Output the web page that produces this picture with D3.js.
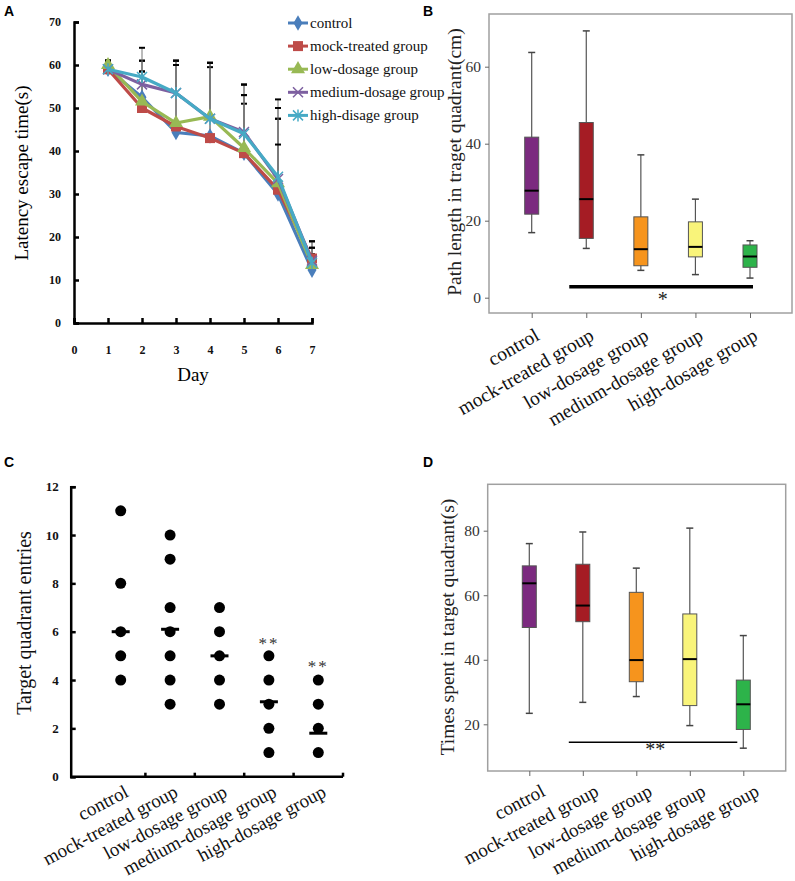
<!DOCTYPE html>
<html><head><meta charset="utf-8">
<script src="https://cdn.jsdelivr.net/npm/d3@7"></script>
<style>body{margin:0;background:#fff} svg{display:block}</style></head>
<body>
<svg id="c" width="795" height="881"></svg>
<script>
// ---------- DATA ----------
const days = [1, 2, 3, 4, 5, 6, 7];
const dayTicks = [0, 1, 2, 3, 4, 5, 6, 7];
const latencyTicks = [0, 10, 20, 30, 40, 50, 60, 70];
const seriesNames = ["control", "mock-treated group", "low-dosage group", "medium-dosage group", "high-disage group"];
const controlLatency = [59, 52.5, 44.3, 43.5, 39.5, 30, 12.3];
const mockLatency    = [59, 50, 45.7, 43, 39.5, 31, 15];
const lowLatency     = [60, 51.5, 46.5, 48, 40.7, 32.5, 13.5];
const mediumLatency  = [59, 55.5, 53.5, 47.5, 44.4, 33.5, 14.5];
const highLatency    = [59, 57.2, 53.5, 47.5, 44, 34, 14];
const controlErr = [2, 6, 16.7, 17, 16, 22, 6.7];
const mockErr    = [2, 11, 15.3, 17.5, 13.5, 16.5, 4];
const lowErr     = [1, 7, 13.5, 12.5, 10.3, 15, 4];
const mediumErr  = [2, 5.5, 7.5, 12, 11, 16.5, 1.5];
const highErr    = [2, 6.8, 6.5, 13, 9, 7.5, 3.5];

const groups = ["control", "mock-treated group", "low-dosage group", "medium-dosage group", "high-dosage group"];

// Panel B: path length (cm)
const bTicks = [0, 20, 40, 60];
const bWhiskerHigh = [63.7, 69.3, 37.1, 25.6, 14.8];
const bQ3          = [41.7, 45.5, 21.0, 19.7, 13.7];
const bMedian      = [27.8, 25.6, 12.6, 13.2, 10.7];
const bQ1          = [21.7, 15.4, 8.3, 10.6, 7.9];
const bWhiskerLow  = [16.9, 12.8, 7.1, 6.0, 5.1];
const bSigLevel = 2.85;

// Panel C: target quadrant entries
const cTicks = [0, 2, 4, 6, 8, 10, 12];
const cControl = [11, 8, 6, 5, 4];
const cMock    = [10, 9, 7, 6, 5, 4, 3];
const cLow     = [7, 6, 5, 4, 3];
const cMedium  = [5, 4, 3, 2, 1];
const cHigh    = [4, 3, 2, 1];
const cMedians = [6, 6.1, 5, 3.1, 1.8];
const cStars   = ["", "", "", "**", "**"];
const cStarLevel = [0, 0, 0, 5.3, 4.35];

// Panel D: time in target quadrant (s)
const dTicks = [20, 40, 60, 80];
const dWhiskerHigh = [76.0, 79.6, 68.4, 80.8, 47.5];
const dQ3          = [69.1, 69.6, 60.9, 54.2, 33.7];
const dMedian      = [63.7, 56.8, 39.9, 40.2, 26.2];
const dQ1          = [50.0, 51.8, 33.2, 25.8, 18.4];
const dWhiskerLow  = [23.4, 26.8, 28.6, 19.6, 12.6];
const dSigLevel = 14.4;

// ---------- STYLE ----------
const SERIF = "'Liberation Serif','Times New Roman',serif";
const SANS = "'Liberation Sans',Arial,sans-serif";
const lineColors = ["#4a7ebb", "#be4b48", "#98b954", "#7d60a0", "#46aac5"];
const boxColors = ["#7b2a7f", "#a51c24", "#f6941d", "#f9f47a", "#2db34a"];

const svg = d3.select("#c");

function panelLetter(t, x, y) {
  svg.append("text").attr("x", x).attr("y", y).text(t)
    .attr("font-family", SANS).attr("font-weight", "bold").attr("font-size", 14).attr("fill", "#000");
}
panelLetter("A", 4, 16); panelLetter("B", 423, 16); panelLetter("C", 4, 467); panelLetter("D", 423, 467);

// ---------- PANEL A ----------
(function () {
  const x = d3.scaleLinear().domain([0, 7]).range([74, 312]);
  const y = d3.scaleLinear().domain([0, 70]).range([323, 22]);
  const g = svg.append("g");
  const yAx = g.append("g").attr("transform", "translate(74,0)")
    .call(d3.axisLeft(y).tickValues(latencyTicks).tickSize(-5).tickPadding(13).tickFormat(d3.format("d")));
  const xAx = g.append("g").attr("transform", "translate(0,323)")
    .call(d3.axisBottom(x).tickValues(dayTicks).tickSize(-5).tickPadding(22).tickFormat(d3.format("d")));
  [yAx, xAx].forEach(a => {
    a.select(".domain").attr("stroke", "#000").attr("stroke-width", 2.5);
    a.selectAll(".tick line").attr("stroke", "#000").attr("stroke-width", 2.5);
    a.selectAll("text").attr("font-family", SERIF).attr("font-weight", "bold").attr("font-size", 12).attr("fill", "#111");
  });
  g.append("text").attr("x", 193).attr("y", 381).attr("text-anchor", "middle")
    .attr("font-family", SERIF).attr("font-size", 19).text("Day");
  g.append("text").attr("transform", "translate(28,173) rotate(-90)").attr("text-anchor", "middle")
    .attr("font-family", SERIF).attr("font-size", 19).text("Latency escape time(s)");

  const all = [controlLatency, mockLatency, lowLatency, mediumLatency, highLatency];
  const errs = [controlErr, mockErr, lowErr, mediumErr, highErr];
  all.forEach((s, i) => {
    s.forEach((v, j) => {
      const top = v + errs[i][j];
      g.append("line").attr("x1", x(days[j])).attr("x2", x(days[j])).attr("y1", y(v)).attr("y2", y(top))
        .attr("stroke", "#777").attr("stroke-width", 1);
      g.append("line").attr("x1", x(days[j]) - 3).attr("x2", x(days[j]) + 3).attr("y1", y(top)).attr("y2", y(top))
        .attr("stroke", "#000").attr("stroke-width", 2);
    });
  });
  const line = d3.line().x((d, j) => x(days[j])).y(d => y(d));
  function marker(sel, i, cx, cy) {
    const c = lineColors[i];
    if (i === 0) sel.append("path").attr("d", d3.symbol(d3.symbolDiamond, 70)()).attr("transform", `translate(${cx},${cy})`).attr("fill", c);
    else if (i === 1) sel.append("rect").attr("x", cx - 5).attr("y", cy - 5).attr("width", 10).attr("height", 10).attr("fill", c);
    else if (i === 2) sel.append("path").attr("d", d3.symbol(d3.symbolTriangle, 85)()).attr("transform", `translate(${cx},${cy})`).attr("fill", c);
    else if (i === 3) sel.append("path").attr("d", `M${cx-5},${cy-5}L${cx+5},${cy+5}M${cx-5},${cy+5}L${cx+5},${cy-5}`).attr("stroke", c).attr("stroke-width", 1.5);
    else sel.append("path").attr("d", `M${cx-5},${cy-5}L${cx+5},${cy+5}M${cx-5},${cy+5}L${cx+5},${cy-5}M${cx},${cy-6}L${cx},${cy+6}`).attr("stroke", c).attr("stroke-width", 1.5);
  }
  all.forEach((s, i) => {
    g.append("path").attr("d", line(s)).attr("fill", "none").attr("stroke", lineColors[i]).attr("stroke-width", 3.2).attr("stroke-linejoin", "round");
    s.forEach((v, j) => marker(g, i, x(days[j]), y(v)));
  });
  seriesNames.forEach((n, i) => {
    const ly = 23 + i * 23.1;
    g.append("line").attr("x1", 288).attr("x2", 308).attr("y1", ly).attr("y2", ly).attr("stroke", lineColors[i]).attr("stroke-width", 3);
    marker(g, i, 298, ly);
    g.append("text").attr("x", 310).attr("y", ly + 5).attr("font-family", SERIF).attr("font-size", 15).attr("fill", "#111").text(n);
  });
})();

// ---------- BOX PANEL helper ----------
function boxPanel(o) {
  const g = svg.append("g");
  const x = d3.scalePoint().domain(groups).range(o.xr);
  const y = d3.scaleLinear().domain(o.yd).range(o.yr);
  g.append("rect").attr("x", o.frame[0]).attr("y", o.frame[1]).attr("width", o.frame[2] - o.frame[0]).attr("height", o.frame[3] - o.frame[1])
    .attr("fill", "none").attr("stroke", "#a0a0a0").attr("stroke-width", 1.5);
  const yAx = g.append("g").attr("transform", `translate(${o.frame[0]},0)`)
    .call(d3.axisLeft(y).tickValues(o.ticks).tickSize(4).tickPadding(4).tickFormat(d3.format("d")));
  yAx.select(".domain").remove();
  yAx.selectAll(".tick line").attr("stroke", "#666");
  yAx.selectAll("text").attr("font-family", SERIF).attr("font-size", 15.5).attr("fill", "#333");
  const xAx = g.append("g").attr("transform", `translate(0,${o.frame[3]})`)
    .call(d3.axisBottom(x).tickSize(5).tickFormat(""));
  xAx.select(".domain").remove();
  xAx.selectAll(".tick line").attr("stroke", "#666");
  groups.forEach((n, i) => {
    g.append("text").attr("transform", `translate(${x(n) + o.lab[0]},${o.frame[3] + o.lab[1]}) rotate(${o.rot})`)
      .attr("text-anchor", "end").attr("font-family", SERIF).attr("font-size", o.labSize).attr("fill", "#111").text(n);
  });
  g.append("text").attr("transform", `translate(${o.ylab[0]},${o.ylab[1]}) rotate(-90)`).attr("text-anchor", "middle")
    .attr("font-family", SERIF).attr("font-size", 19.5).attr("fill", "#222").text(o.title);
  const bw = 14, cw = 7;
  groups.forEach((n, i) => {
    const cx = x(n);
    g.append("line").attr("x1", cx).attr("x2", cx).attr("y1", y(o.wh[i])).attr("y2", y(o.wl[i])).attr("stroke", "#555").attr("stroke-width", 1.2);
    [o.wh[i], o.wl[i]].forEach(v => g.append("line").attr("x1", cx - cw / 2).attr("x2", cx + cw / 2).attr("y1", y(v)).attr("y2", y(v)).attr("stroke", "#444").attr("stroke-width", 1.5));
    g.append("rect").attr("x", cx - bw / 2).attr("y", y(o.q3[i])).attr("width", bw).attr("height", y(o.q1[i]) - y(o.q3[i]))
      .attr("fill", boxColors[i]).attr("stroke", "#555").attr("stroke-width", 1);
    g.append("line").attr("x1", cx - bw / 2).attr("x2", cx + bw / 2).attr("y1", y(o.med[i])).attr("y2", y(o.med[i])).attr("stroke", "#000").attr("stroke-width", 2);
  });
  g.append("line").attr("x1", x(groups[1]) + o.sig[0]).attr("x2", x(groups[4]) + o.sig[1]).attr("y1", y(o.sigLevel)).attr("y2", y(o.sigLevel))
    .attr("stroke", "#000").attr("stroke-width", o.sigW);
  g.append("text").attr("x", x(groups[2]) + o.star[0]).attr("y", y(o.sigLevel) + o.star[1]).attr("text-anchor", "middle")
    .attr("font-family", SERIF).attr("font-size", 20).attr("fill", "#222").text(o.starText);
}

boxPanel({
  xr: [531.7, 750], yd: [0, 60], yr: [297.7, 66.7], frame: [489, 14, 792, 313], ticks: bTicks,
  wh: bWhiskerHigh, q3: bQ3, med: bMedian, q1: bQ1, wl: bWhiskerLow,
  lab: [9, 26], rot: -30, labSize: 19.5, ylab: [461, 162], title: "Path length in traget quadrant(cm)",
  sigLevel: bSigLevel, sig: [-17, 3], sigW: 3.5, star: [22, 19], starText: "*"
});
boxPanel({
  xr: [529.3, 743.3], yd: [20, 80], yr: [724.3, 530.7], frame: [487.7, 484.3, 785.7, 771], ticks: dTicks,
  wh: dWhiskerHigh, q3: dQ3, med: dMedian, q1: dQ1, wl: dWhiskerLow,
  lab: [17, 24], rot: -28, labSize: 19, ylab: [454, 627], title: "Times spent in target quadrant(s)",
  sigLevel: dSigLevel, sig: [-14, -6], sigW: 1.5, star: [19, 14], starText: "**"
});

// ---------- PANEL C ----------
(function () {
  const g = svg.append("g");
  const x = d3.scalePoint().domain(groups).range([120.7, 318.3]);
  const y = d3.scaleLinear().domain([0, 12]).range([776.7, 486.7]);
  const step = x.step();
  const yAx = g.append("g").attr("transform", "translate(70.7,0)")
    .call(d3.axisLeft(y).tickValues(cTicks).tickSize(-5).tickPadding(12));
  yAx.select(".domain").attr("stroke", "#000").attr("stroke-width", 2.5);
  yAx.selectAll(".tick line").attr("stroke", "#000").attr("stroke-width", 2.5);
  yAx.selectAll("text").attr("font-family", SERIF).attr("font-weight", "bold").attr("font-size", 13).attr("fill", "#111");
  g.append("line").attr("x1", 70.7).attr("x2", x(groups[4]) + step / 2).attr("y1", y(0)).attr("y2", y(0)).attr("stroke", "#000").attr("stroke-width", 2.5);
  groups.forEach(n => {
    g.append("line").attr("x1", x(n) + step / 2).attr("x2", x(n) + step / 2).attr("y1", y(0)).attr("y2", y(0) - 4).attr("stroke", "#000").attr("stroke-width", 2.5);
  });
  const dots = [cControl, cMock, cLow, cMedium, cHigh];
  dots.forEach((arr, i) => {
    const cx = x(groups[i]);
    arr.forEach(v => g.append("circle").attr("cx", cx).attr("cy", y(v)).attr("r", 5.5).attr("fill", "#000"));
    g.append("line").attr("x1", cx - 9).attr("x2", cx + 9).attr("y1", y(cMedians[i])).attr("y2", y(cMedians[i])).attr("stroke", "#000").attr("stroke-width", 3);
    if (cStars[i]) g.append("text").attr("x", cx).attr("y", y(cStarLevel[i])).attr("text-anchor", "middle")
      .attr("font-family", SERIF).attr("font-size", 17).attr("letter-spacing", 2).attr("fill", "#333").text(cStars[i]);
  });
  groups.forEach(n => {
    g.append("text").attr("transform", `translate(${x(n) + 9},${y(0) + 19}) rotate(-28)`)
      .attr("text-anchor", "end").attr("font-family", SERIF).attr("font-size", 19).attr("fill", "#111").text(n);
  });
  g.append("text").attr("transform", "translate(31,623) rotate(-90)").attr("text-anchor", "middle")
    .attr("font-family", SERIF).attr("font-size", 20).attr("fill", "#111").text("Target quadrant entries");
})();
</script>
</body></html>
